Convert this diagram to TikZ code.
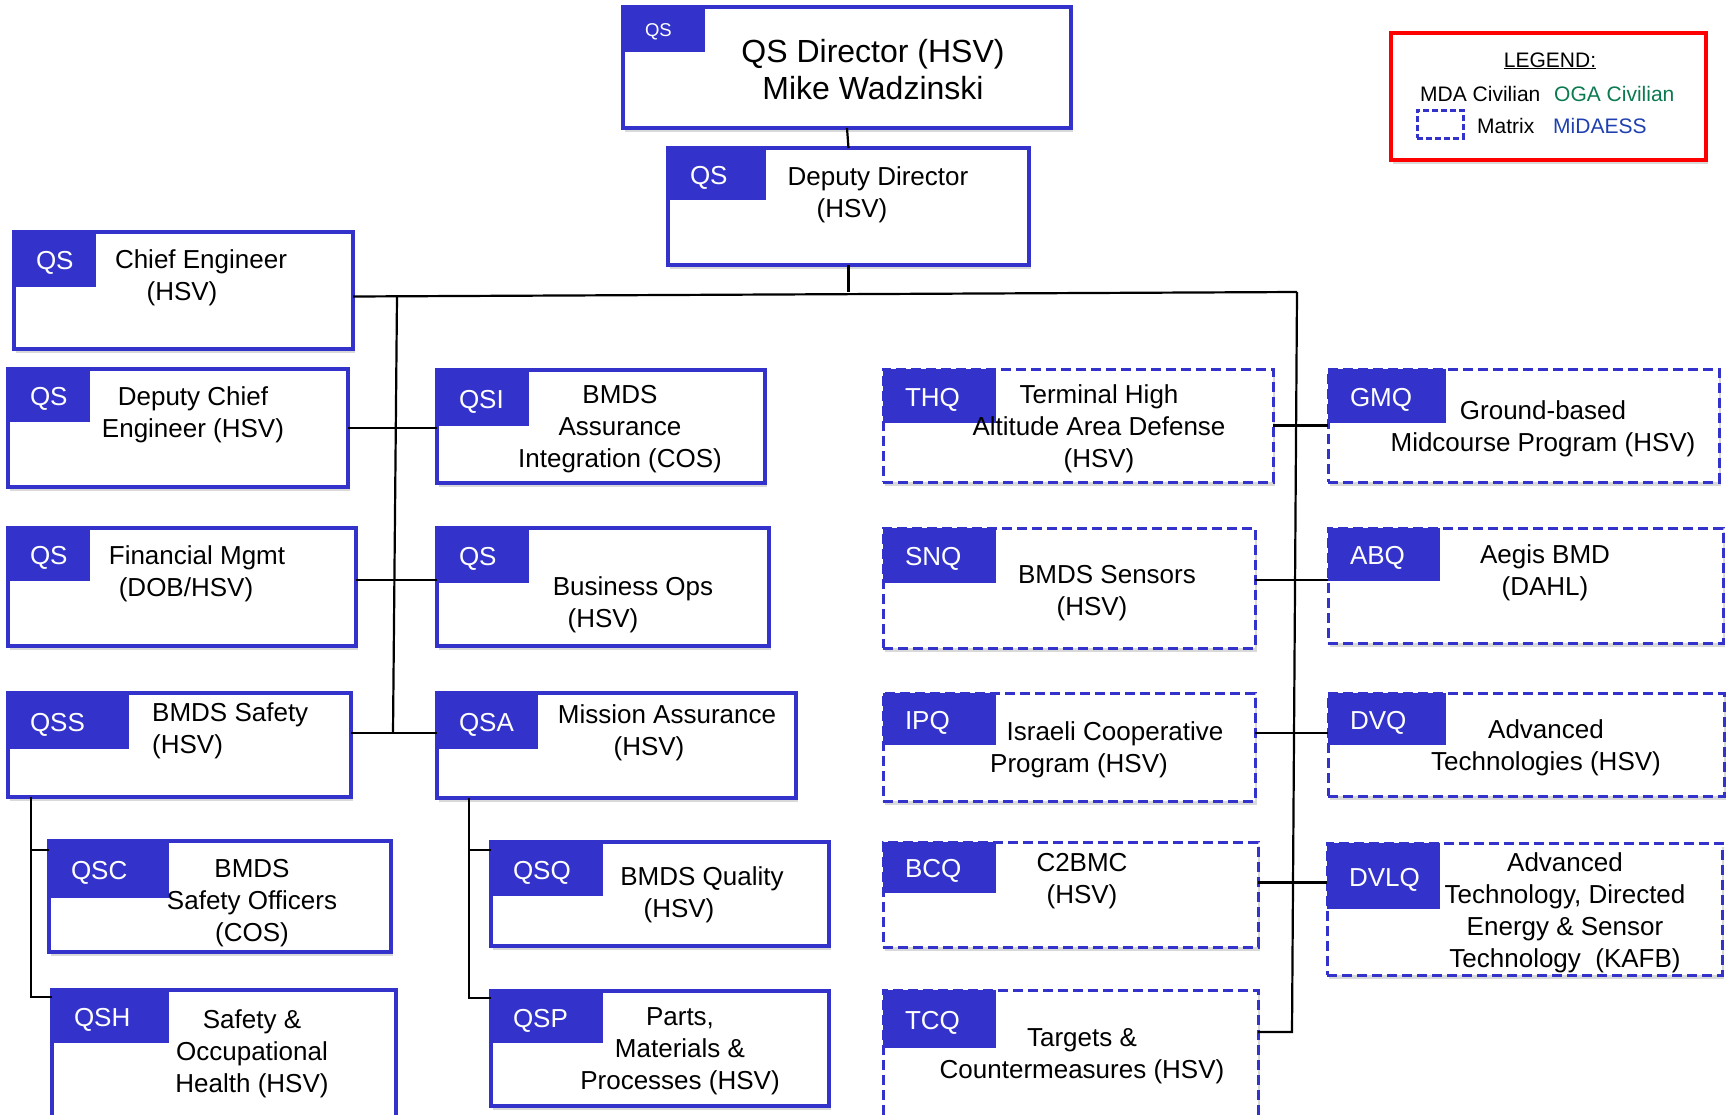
\documentclass[tikz,border=0pt]{standalone}
\usepackage{fontspec}
\setmainfont{Liberation Sans}
\usetikzlibrary{shadows}
\definecolor{qsblue}{HTML}{3333CC}
\definecolor{legred}{HTML}{FF0000}
\definecolor{ogagreen}{HTML}{0B7A4F}
\definecolor{midblue}{HTML}{1F40B0}
\def\tagcap[#1]#2{\makebox[#1][l]{\hspace*{22pt}#2}}
\def\lpad#1{\rule{#1}{0pt}}

\begin{document}
\begin{tikzpicture}[x=1pt, y=-1pt,
	orgbox/.style={draw=qsblue, line width=3.5pt, fill=white, inner sep=0pt, outer sep=0pt, anchor=north west, drop shadow={opacity=0.3, shadow xshift=2pt, shadow yshift=-4pt}},
	mxbox/.style={orgbox, line width=3pt, dash pattern=on 10pt off 5pt},
	tagbox/.style={fill=qsblue, text=white, inner sep=0pt, outer sep=0pt, anchor=north west, text height=20pt, text depth=0pt, font=\fontsize{26}{30}\selectfont},
	boxtext/.style={inner sep=0pt, align=center, font=\fontsize{26}{32}\selectfont},
	legtext/.style={inner sep=0pt, font=\fontsize{21}{25}\selectfont},
	conn/.style={line width=2.2pt}]
			%%%%% START %%%%%
			
			\useasboundingbox (0,0) rectangle (1728,1114);
			\clip (0,0) rectangle (1728,1114);
			
			% director and deputy
			\node[orgbox, minimum width=448pt, minimum height=121pt] (dir) at (623,7) {};
			\node[tagbox, minimum height=45pt, text height=14pt, font=\fontsize{18.5}{22}\selectfont] (dir-t) at (dir.north west) {\tagcap[82pt]{QS}};
			\node[boxtext, font=\fontsize{32}{37}\selectfont] (dir-x) at (873,70) {QS Director (HSV)\\Mike Wadzinski};
			
			\node[orgbox, minimum width=361pt, minimum height=117pt] (ddir) at (668,148) {};
			\node[tagbox, minimum height=52pt] (ddir-t) at (ddir.north west) {\tagcap[98pt]{QS}};
			\node[boxtext] (ddir-x) at (878,195) {Deputy Director\\(HSV)\lpad{52pt}};
			
			% left column
			\node[orgbox, minimum width=339pt, minimum height=117pt] (chief) at (14,232) {};
			\node[tagbox, minimum height=55pt] (chief-t) at (chief.north west) {\tagcap[82pt]{QS}};
			\node[boxtext] (chief-x) at (201,278) {Chief Engineer\\(HSV)\lpad{38pt}};
			
			\node[orgbox, minimum width=340pt, minimum height=118pt] (dchief) at (8,369) {};
			\node[tagbox, minimum height=53pt] (dchief-t) at (dchief.north west) {\tagcap[82pt]{QS}};
			\node[boxtext] (dchief-x) at (193,415) {Deputy Chief\\Engineer (HSV)};
			
			\node[orgbox, minimum width=348pt, minimum height=118pt] (fin) at (8,528) {};
			\node[tagbox, minimum height=53pt] (fin-t) at (fin.north west) {\tagcap[82pt]{QS}};
			\node[boxtext] (fin-x) at (197,574) {Financial Mgmt\\(DOB/HSV)\lpad{22pt}};
			
			\node[orgbox, minimum width=343pt, minimum height=104pt] (safety) at (8,693) {};
			\node[tagbox, minimum height=56pt] (safety-t) at (safety.north west) {\tagcap[121pt]{QSS}};
			\node[boxtext, align=left, anchor=west] (safety-x) at (152,731) {BMDS Safety\\(HSV)};
			
			\node[orgbox, minimum width=342pt, minimum height=111pt] (qsc) at (49,841) {};
			\node[tagbox, minimum height=57pt] (qsc-t) at (qsc.north west) {\tagcap[120pt]{QSC}};
			\node[boxtext] (qsc-x) at (252,903) {BMDS\\Safety Officers\\(COS)};
			
			\node[orgbox, minimum width=344pt, minimum height=140pt] (qsh) at (52,990) {};
			\node[tagbox, minimum height=53pt] (qsh-t) at (qsh.north west) {\tagcap[117pt]{QSH}};
			\node[boxtext] (qsh-x) at (252,1054) {Safety \&\\Occupational\\Health (HSV)};
			
			% middle column
			\node[orgbox, minimum width=328pt, minimum height=113pt] (qsi) at (437,370) {};
			\node[tagbox, minimum height=56pt] (qsi-t) at (qsi.north west) {\tagcap[92pt]{QSI}};
			\node[boxtext] (qsi-x) at (620,429) {BMDS\\Assurance\\Integration (COS)};
			
			\node[orgbox, minimum width=332pt, minimum height=118pt] (biz) at (437,528) {};
			\node[tagbox, minimum height=55pt] (biz-t) at (biz.north west) {\tagcap[92pt]{QS}};
			\node[boxtext] (biz-x) at (633,605) {Business Ops\\(HSV)\lpad{60pt}};
			
			\node[orgbox, minimum width=359pt, minimum height=105pt] (qsa) at (437,693) {};
			\node[tagbox, minimum height=56pt] (qsa-t) at (qsa.north west) {\tagcap[101pt]{QSA}};
			\node[boxtext] (qsa-x) at (667,733) {Mission Assurance\\(HSV)\lpad{36pt}};
			
			\node[orgbox, minimum width=338pt, minimum height=104pt] (qsq) at (491,842) {};
			\node[tagbox, minimum height=54pt] (qsq-t) at (qsq.north west) {\tagcap[112pt]{QSQ}};
			\node[boxtext] (qsq-x) at (702,895) {BMDS Quality\\(HSV)\lpad{46pt}};
			
			\node[orgbox, minimum width=338pt, minimum height=115pt] (qsp) at (491,991) {};
			\node[tagbox, minimum height=52pt] (qsp-t) at (qsp.north west) {\tagcap[112pt]{QSP}};
			\node[boxtext] (qsp-x) at (680,1051) {Parts,\\Materials \&\\Processes (HSV)};
			
			% matrix column 1
			\node[mxbox, minimum width=390pt, minimum height=113pt] (thq) at (883,369) {};
			\node[tagbox, minimum height=54pt] (thq-t) at (thq.north west) {\tagcap[113pt]{THQ}};
			\node[boxtext] (thq-x) at (1099,429) {Terminal High\\Altitude Area Defense\\(HSV)};
			
			\node[mxbox, minimum width=372pt, minimum height=120pt] (snq) at (883,528) {};
			\node[tagbox, minimum height=55pt] (snq-t) at (snq.north west) {\tagcap[113pt]{SNQ}};
			\node[boxtext] (snq-x) at (1107,593) {BMDS Sensors\\(HSV)\lpad{30pt}};
			
			\node[mxbox, minimum width=372pt, minimum height=108pt] (ipq) at (883,693) {};
			\node[tagbox, minimum height=52pt] (ipq-t) at (ipq.north west) {\tagcap[113pt]{IPQ}};
			\node[boxtext] (ipq-x) at (1115,750) {Israeli Cooperative\\Program (HSV)\lpad{72pt}};
			
			\node[mxbox, minimum width=375pt, minimum height=105pt] (bcq) at (883,842) {};
			\node[tagbox, minimum height=51pt] (bcq-t) at (bcq.north west) {\tagcap[113pt]{BCQ}};
			\node[boxtext] (bcq-x) at (1082,881) {C2BMC\\(HSV)};
			
			\node[mxbox, minimum width=375pt, minimum height=140pt] (tcq) at (883,990) {};
			\node[tagbox, minimum height=58pt] (tcq-t) at (tcq.north west) {\tagcap[113pt]{TCQ}};
			\node[boxtext] (tcq-x) at (1082,1056) {Targets \&\\Countermeasures (HSV)};
			
			% matrix column 2
			\node[mxbox, minimum width=391pt, minimum height=113pt] (gmq) at (1328,369) {};
			\node[tagbox, minimum height=54pt] (gmq-t) at (gmq.north west) {\tagcap[118pt]{GMQ}};
			\node[boxtext] (gmq-x) at (1543,429) {Ground-based\\Midcourse Program (HSV)};
			
			\node[mxbox, minimum width=395pt, minimum height=115pt] (abq) at (1328,528) {};
			\node[tagbox, minimum height=53pt] (abq-t) at (abq.north west) {\tagcap[112pt]{ABQ}};
			\node[boxtext] (abq-x) at (1545,573) {Aegis BMD\\(DAHL)};
			
			\node[mxbox, minimum width=396pt, minimum height=103pt] (dvq) at (1328,693) {};
			\node[tagbox, minimum height=52pt] (dvq-t) at (dvq.north west) {\tagcap[118pt]{DVQ}};
			\node[boxtext] (dvq-x) at (1546,748) {Advanced\\Technologies (HSV)};
			
			\node[mxbox, minimum width=395pt, minimum height=132pt] (dvlq) at (1327,843) {};
			\node[tagbox, minimum height=66pt] (dvlq-t) at (dvlq.north west) {\tagcap[113pt]{DVLQ}};
			\node[boxtext] (dvlq-x) at (1565,913) {Advanced\\Technology, Directed\\Energy \& Sensor\\Technology\ \ (KAFB)};
			
			% legend
			\node[draw=legred, line width=4pt, fill=white, inner sep=0pt, outer sep=0pt, anchor=north west, minimum width=315pt, minimum height=127pt, drop shadow={opacity=0.3, shadow xshift=2pt, shadow yshift=-4pt}] (legend) at (1391,33) {};
			\node[legtext, anchor=base] (leg-h) at (1550,67) {\underline{LEGEND:}};
			\node[legtext, anchor=base west] (leg-mda) at (1420,101) {MDA Civilian};
			\node[legtext, anchor=base west, text=ogagreen] (leg-oga) at (1554,101) {OGA Civilian};
			\node[draw=qsblue, line width=2.5pt, dash pattern=on 6pt off 3pt, inner sep=0pt, anchor=north west, minimum width=46pt, minimum height=28pt] (leg-key) at (1416,109) {};
			\node[legtext, anchor=base west] (leg-mx) at (1477,133) {Matrix};
			\node[legtext, anchor=base west, text=midblue] (leg-mid) at (1553,133) {MiDAESS};
			
			% connectors
			\coordinate (ltop) at (397,296);
			\coordinate (rtop) at (1297,292);
			\coordinate (sfc) at ([yshift=12pt]safety.east);
			\coordinate (tcc) at ([yshift=-42pt]tcq.north east);
			
			\draw[conn] (dir.south) -- (ddir.north);
			\draw[conn] (ddir.south) -- (ddir.south |- rtop);
			\draw[conn] ([yshift=-6pt]chief.east) -- (rtop);
			\draw[conn] (ltop) -- ([xshift=-4pt]ltop |- sfc);
			\draw[conn] (rtop) -- ([xshift=-5pt]rtop |- tcc) -- (tcc);
			
			\draw[conn] (dchief.east) -- (dchief.east -| qsi.west);
			\draw[conn] ([yshift=7pt]fin.east) -- ([yshift=7pt]fin.east -| biz.west);
			\draw[conn] (sfc) -- (sfc -| qsa.west);
			
			\draw[conn] ([xshift=23pt]safety.south west) |- ([yshift=-9pt]qsc.north west);
			\draw[conn] ([xshift=23pt]safety.south west) |- ([yshift=-7pt]qsh.north west);
			\draw[conn] ([xshift=32pt]qsa.south west) |- ([yshift=-8pt]qsq.north west);
			\draw[conn] ([xshift=32pt]qsa.south west) |- ([yshift=-7pt]qsp.north west);
			
			\draw[conn] (thq.east) -- (thq.east -| gmq.west);
			\draw[conn] ([yshift=8pt]snq.east) -- ([yshift=8pt]snq.east -| abq.west);
			\draw[conn] ([yshift=14pt]ipq.east) -- ([yshift=14pt]ipq.east -| dvq.west);
			\draw[conn] ([yshift=12pt]bcq.east) -- ([yshift=12pt]bcq.east -| dvlq.west);
			
			%%%%% END %%%%%
\end{tikzpicture}
\end{document}
